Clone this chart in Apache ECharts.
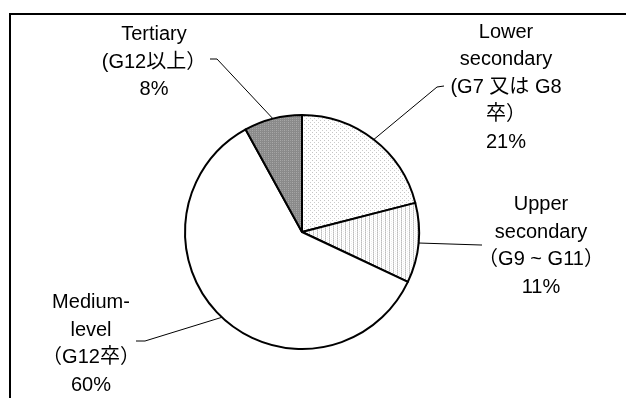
<!DOCTYPE html>
<html>
<head>
<meta charset="utf-8">
<script src="https://cdn.jsdelivr.net/npm/echarts@6/dist/echarts.min.js"></script>
<style>
  html, body { margin: 0; padding: 0; background: #fff; }
  #chart { width: 626px; height: 398px; }
</style>
</head>
<body>
<div id="chart"></div>
<script>
// Share of graduates by education level (clockwise from 12 o'clock)
const categories = [
  'Lower\nsecondary\n(G7 又は G8\n卒）',
  'Upper\nsecondary\n（G9 ~ G11）',
  'Medium-\nlevel\n（G12卒）',
  'Tertiary\n(G12以上）'
];
const shares = [21, 11, 60, 8];

// Where each label block sits and how its leader line bends
const labelAnchors = [
  { x: 506, y: 87,  kink: [437, 87],  end: [444, 86] },
  { x: 541, y: 246, kink: [481, 245], end: [482, 245] },
  { x: 91,  y: 344, kink: [145, 341], end: [136, 341] },
  { x: 154, y: 62,  kink: [217, 59],  end: [210, 59] }
];

// Small tiled fills imitating the hatched/dotted printing
function makePattern(w, h, base, dots) {
  const c = document.createElement('canvas');
  c.width = w; c.height = h;
  const g = c.getContext('2d');
  g.fillStyle = base;
  g.fillRect(0, 0, w, h);
  dots.forEach(function (d) {
    g.fillStyle = d[2];
    g.fillRect(d[0], d[1], 1, 1);
  });
  return { image: c, repeat: 'repeat' };
}

const fills = [
  makePattern(4, 4, '#ffffff', [[0, 0, '#c4c4c4'], [2, 2, '#cccccc']]),
  makePattern(4, 2, '#ffffff', [[1, 0, '#bcbcbc'], [1, 1, '#d4d4d4'], [3, 1, '#ececec']]),
  '#ffffff',
  makePattern(4, 4, '#8a8a8a', [[0, 0, '#a8a8a8'], [0, 2, '#a8a8a8'], [2, 0, '#a0a0a0'], [2, 2, '#9c9c9c']])
];

const chart = echarts.init(document.getElementById('chart'), null, { renderer: 'canvas' });

chart.setOption({
  backgroundColor: '#ffffff',
  animation: false,
  graphic: [{
    type: 'rect',
    shape: { x: 10, y: 14, width: 800, height: 600 },
    style: { fill: 'none', stroke: '#000', lineWidth: 2 },
    silent: true,
    z: 0
  }],
  series: [{
    type: 'pie',
    center: [302, 232],
    radius: 117,
    startAngle: 90,
    clockwise: true,
    avoidLabelOverlap: false,
    data: categories.map(function (name, i) {
      return { name: name, value: shares[i], itemStyle: { color: fills[i] } };
    }),
    itemStyle: { borderColor: '#000', borderWidth: 2 },
    emphasis: { disabled: true },
    label: {
      show: true,
      position: 'outside',
      formatter: function (p) { return p.name + '\n' + p.value + '%'; },
      fontFamily: '"Liberation Sans", Arial, "Noto Sans CJK JP", sans-serif',
      fontSize: 20,
      lineHeight: 27.5,
      color: '#000',
      align: 'center'
    },
    labelLine: {
      show: true,
      length: 20,
      length2: 10,
      lineStyle: { color: '#000', width: 1 }
    },
    labelLayout: function (params) {
      const a = labelAnchors[params.dataIndex];
      const pts = params.labelLinePoints;
      const start = pts && pts.length ? pts[0] : a.kink;
      return {
        x: a.x,
        y: a.y,
        align: 'center',
        verticalAlign: 'middle',
        labelLinePoints: [start, a.kink, a.end]
      };
    }
  }]
});
</script>
</body>
</html>
